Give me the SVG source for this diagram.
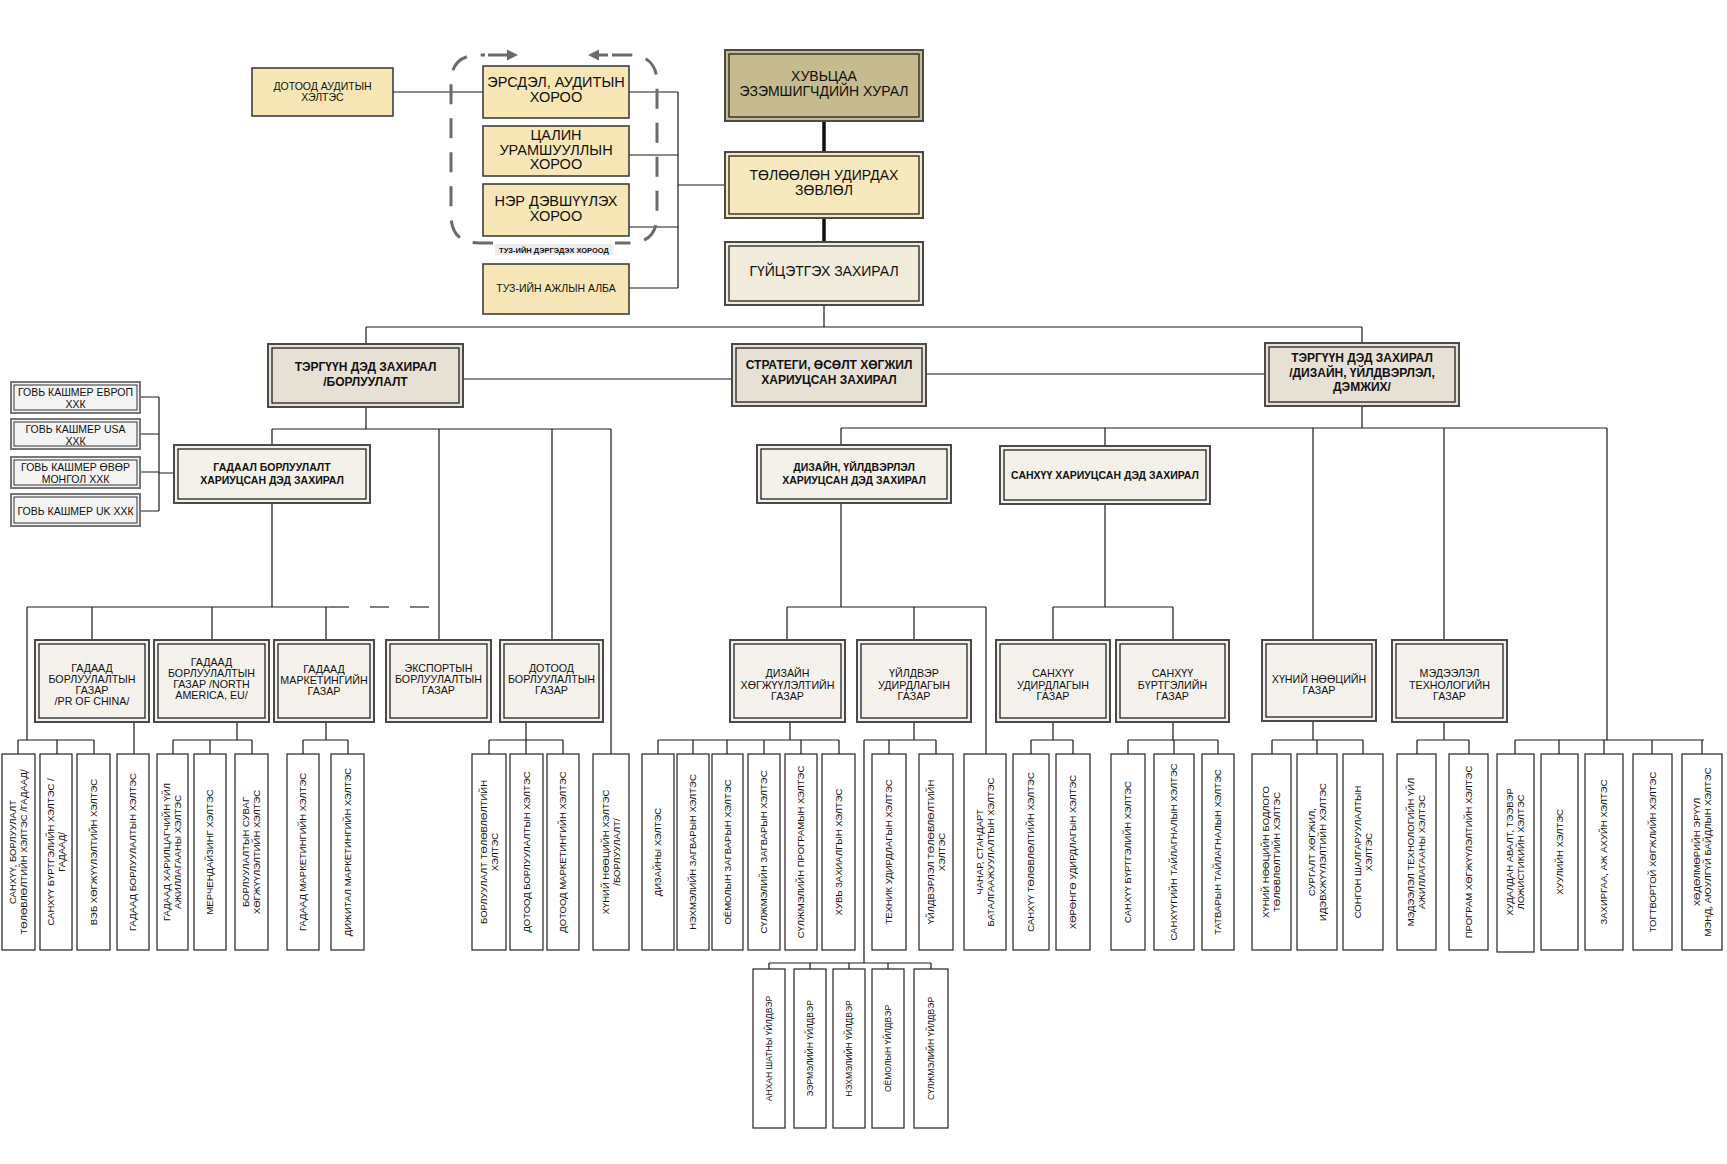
<svg xmlns="http://www.w3.org/2000/svg" width="1727" height="1164" viewBox="0 0 1727 1164">
<style>
.o{stroke:#4a4a4a;stroke-width:2}
.i{fill:none;stroke:#222;stroke-width:1.3}
.s1{fill:#c6ba8f}.s2{fill:#f6e9bd}.s3{fill:#f1ebdb}
.cm{fill:#f7e7b6;stroke:#333;stroke-width:1.5}
.l2{fill:#e6e0d5}.l3{fill:#f4f0ea}.gz{fill:#f5f2ed}
.sb{fill:#f4f4f4;stroke:#777;stroke-width:2}
.si{fill:none;stroke:#333;stroke-width:1}
.bx{fill:#fff;stroke:#222;stroke-width:1.2}
.t{font-family:"Liberation Sans",Arial,sans-serif;fill:#111;text-anchor:middle}
.f14{font-size:14px}.f13{font-size:14.5px}.f10{font-size:10.5px}.f11{font-size:10.7px}
.fb12{font-size:12px;font-weight:bold}.fb10{font-size:10.5px;font-weight:bold}
.fv{font-size:9.5px}.fp{font-size:8.5px}
.c{stroke:#1a1a1a;stroke-width:1.2;fill:none}
.ck{stroke:#111;stroke-width:3.5;fill:none}
.dash{fill:none;stroke:#6b6b6b;stroke-width:3;stroke-dasharray:20 14}
.dl{stroke:#555;stroke-width:1.5;stroke-dasharray:19 21;fill:none}
</style>
<rect width="1727" height="1164" fill="#fff"/>
<g id="connectors">
<path class="c" d="M393 92H483 M629 92H678 M629 155H678 M629 227H678 M629 288H678 M678 92V288 M678 185H725
M824 305V327 M366 327H1362 M366 327V344 M1362 327V343
M463 379H732 M926 374H1265
M366 407V429 M272 429H611 M272 429V445 M439 429V640 M552 429V640 M611 429V754
M1362 406V428 M841 428H1607 M841 428V445 M1105 428V446 M1313 428V640 M1444 428V640 M1607 428V740
M140 397H159 M140 434H159 M140 472H159 M140 511H159 M159 397V511 M159 473H174
M272 503V607 M27 607H330 M27 607V740 M92 607V640 M212 607V640 M326 607V640
M18 740H94 M18 740V754 M57 740V754 M94 740V754 M134 722V754 M237 722V740 M173 740H252 M173 740V754 M210 740V754 M252 740V754 M326 722V740 M303 740H348 M303 740V754 M348 740V754 M526 722V740 M489 740H563 M489 740V754 M526 740V754 M563 740V754
M841 503V607 M787 607H986 M787 607V640 M914 607V640 M986 607V754
M1105 504V607 M1053 607H1173 M1053 607V640 M1173 607V640
M790 722V740 M658 740H839 M658 740V754 M693 740V754 M727 740V754 M764 740V754 M801 740V754 M839 740V754
M914 722V740 M864 740H936 M889 740V754 M936 740V754 M864 740V963 M769 963H931 M769 963V969 M810 963V969 M849 963V969 M888 963V969 M931 963V969
M1053 722V740 M1031 740H1073 M1031 740V754 M1073 740V754
M1173 722V740 M1128 740H1218 M1128 740V754 M1174 740V754 M1218 740V754
M1313 721V740 M1272 740H1363 M1272 740V754 M1317 740V754 M1363 740V754
M1444 722V740 M1417 740H1469 M1417 740V754 M1469 740V754
M1515 740H1704 M1515 740V754 M1559 740V754 M1604 740V754 M1652 740V754 M1702 740V754"/>
<path class="ck" d="M824 121V152 M824 218V242"/>
<path class="dl" d="M330 607H431"/>
</g>
<g id="committee-frame">
<path class="dash" d="M612 55H629Q657 55 657 83V215Q657 243 629 243H615"/>
<path class="dash" d="M493 243H479Q451 243 451 215V83Q451 55 479 55H485"/>
<path d="M488 55H509" stroke="#6b6b6b" stroke-width="3"/>
<polygon points="507,49.5 518,55 507,60.5" fill="#6b6b6b"/>
<path d="M597 55H608" stroke="#6b6b6b" stroke-width="3"/>
<polygon points="599,49.5 588,55 599,60.5" fill="#6b6b6b"/>
<rect x="495" y="244" width="118" height="11" fill="#ececec"/>
<text class="t" x="554" y="252.5" style="font-size:7.5px;font-weight:bold">ТУЗ-ИЙН ДЭРГЭДЭХ ХОРООД</text>
</g>
<g id="shareholders"><rect class="o s1" x="725" y="50" width="198" height="71"/><rect class="i" x="729" y="54" width="190" height="63"/><text class="t f14" x="824" y="81">ХУВЬЦАА</text><text class="t f14" x="824" y="96">ЭЗЭМШИГЧДИЙН ХУРАЛ</text></g>
<g id="board"><rect class="o s2" x="725" y="152" width="198" height="66"/><rect class="i" x="729" y="156" width="190" height="58"/><text class="t f14" x="824" y="180">ТӨЛӨӨЛӨН УДИРДАХ</text><text class="t f14" x="824" y="195">ЗӨВЛӨЛ</text></g>
<g id="ceo"><rect class="o s3" x="725" y="242" width="198" height="63"/><rect class="i" x="729" y="246" width="190" height="55"/><text class="t f14" x="824" y="276">ГҮЙЦЭТГЭХ ЗАХИРАЛ</text></g>
<g id="internal-audit"><rect class="cm" x="252" y="68" width="141" height="48"/><text class="t f10" x="322.5" y="90">ДОТООД АУДИТЫН</text><text class="t f10" x="322.5" y="100.5">ХЭЛТЭС</text></g>
<g id="risk-committee"><rect class="cm" x="483" y="66" width="146" height="52"/><text class="t f13" x="556" y="87">ЭРСДЭЛ, АУДИТЫН</text><text class="t f13" x="556" y="101.5">ХОРОО</text></g>
<g id="salary-committee"><rect class="cm" x="483" y="126" width="146" height="50"/><text class="t f13" x="556" y="140">ЦАЛИН</text><text class="t f13" x="556" y="154.5">УРАМШУУЛЛЫН</text><text class="t f13" x="556" y="169">ХОРОО</text></g>
<g id="nomination-committee"><rect class="cm" x="483" y="184" width="146" height="52"/><text class="t f13" x="556" y="206">НЭР ДЭВШҮҮЛЭХ</text><text class="t f13" x="556" y="220.5">ХОРОО</text></g>
<g id="board-office"><rect class="cm" x="483" y="264" width="146" height="50"/><text class="t f10" x="556" y="292">ТУЗ-ИЙН АЖЛЫН АЛБА</text></g>
<g id="vp-sales"><rect class="o l2" x="268" y="344" width="195" height="63"/><rect class="i" x="272" y="348" width="187" height="55"/><text class="t fb12" x="365.5" y="371">ТЭРГҮҮН ДЭД ЗАХИРАЛ</text><text class="t fb12" x="365.5" y="386">/БОРЛУУЛАЛТ</text></g>
<g id="strategy"><rect class="o l2" x="732" y="344" width="194" height="62"/><rect class="i" x="736" y="348" width="186" height="54"/><text class="t fb12" x="829" y="369">СТРАТЕГИ, ӨСӨЛТ ХӨГЖИЛ</text><text class="t fb12" x="829" y="384">ХАРИУЦСАН ЗАХИРАЛ</text></g>
<g id="vp-design"><rect class="o l2" x="1265" y="343" width="194" height="63"/><rect class="i" x="1269" y="347" width="186" height="55"/><text class="t fb12" x="1362" y="362">ТЭРГҮҮН ДЭД ЗАХИРАЛ</text><text class="t fb12" x="1362" y="377">/ДИЗАЙН, ҮЙЛДВЭРЛЭЛ,</text><text class="t fb12" x="1362" y="391">ДЭМЖИХ/</text></g>
<g id="foreign-sales-dir"><rect class="o l3" x="174" y="445" width="196" height="58"/><rect class="i" x="178" y="449" width="188" height="50"/><text class="t fb10" x="272" y="471">ГАДААЛ БОРЛУУЛАЛТ</text><text class="t fb10" x="272" y="484">ХАРИУЦСАН ДЭД ЗАХИРАЛ</text></g>
<g id="design-prod-dir"><rect class="o l3" x="757" y="445" width="194" height="58"/><rect class="i" x="761" y="449" width="186" height="50"/><text class="t fb10" x="854" y="471">ДИЗАЙН, ҮЙЛДВЭРЛЭЛ</text><text class="t fb10" x="854" y="483.5">ХАРИУЦСАН ДЭД ЗАХИРАЛ</text></g>
<g id="finance-dir"><rect class="o l3" x="1000" y="446" width="210" height="58"/><rect class="i" x="1004" y="450" width="202" height="50"/><text class="t fb10" x="1105" y="479">САНХҮҮ ХАРИУЦСАН ДЭД ЗАХИРАЛ</text></g>
<g id="sub-europe"><rect class="sb" x="11" y="382" width="129" height="31"/><rect class="si" x="14" y="385" width="123" height="25"/><text class="t f10" x="75.5" y="396">ГОВЬ КАШМЕР ЕВРОП</text><text class="t f10" x="75.5" y="408">ХХК</text></g>
<g id="sub-usa"><rect class="sb" x="11" y="419" width="129" height="30"/><rect class="si" x="14" y="422" width="123" height="24"/><text class="t f10" x="75.5" y="433">ГОВЬ КАШМЕР USA</text><text class="t f10" x="75.5" y="445">ХХК</text></g>
<g id="sub-inner-mongolia"><rect class="sb" x="11" y="457" width="129" height="31"/><rect class="si" x="14" y="460" width="123" height="25"/><text class="t f10" x="75.5" y="471">ГОВЬ КАШМЕР ӨВӨР</text><text class="t f10" x="75.5" y="483">МОНГОЛ ХХК</text></g>
<g id="sub-uk"><rect class="sb" x="11" y="494" width="129" height="32"/><rect class="si" x="14" y="497" width="123" height="26"/><text class="t f10" x="75.5" y="515">ГОВЬ КАШМЕР UK ХХК</text></g>
<g id="dept-china"><rect class="o gz" x="35" y="640" width="114" height="82"/><rect class="i" x="39" y="644" width="106" height="74"/><text class="t f11" x="92" y="671.5">ГАДААД</text><text class="t f11" x="92" y="682.5">БОРЛУУЛАЛТЫН</text><text class="t f11" x="92" y="693.5">ГАЗАР</text><text class="t f11" x="92" y="704.5">/PR OF CHINA/</text></g>
<g id="dept-na-eu"><rect class="o gz" x="154" y="640" width="115" height="82"/><rect class="i" x="158" y="644" width="107" height="74"/><text class="t f11" x="211.5" y="666">ГАДААД</text><text class="t f11" x="211.5" y="677">БОРЛУУЛАЛТЫН</text><text class="t f11" x="211.5" y="688">ГАЗАР /NORTH</text><text class="t f11" x="211.5" y="699">AMERICA, EU/</text></g>
<g id="dept-foreign-marketing"><rect class="o gz" x="274" y="640" width="100" height="82"/><rect class="i" x="278" y="644" width="92" height="74"/><text class="t f11" x="324" y="673">ГАДААД</text><text class="t f11" x="324" y="684">МАРКЕТИНГИЙН</text><text class="t f11" x="324" y="695">ГАЗАР</text></g>
<g id="dept-export"><rect class="o gz" x="386" y="640" width="105" height="82"/><rect class="i" x="390" y="644" width="97" height="74"/><text class="t f11" x="438.5" y="672">ЭКСПОРТЫН</text><text class="t f11" x="438.5" y="683">БОРЛУУЛАЛТЫН</text><text class="t f11" x="438.5" y="694">ГАЗАР</text></g>
<g id="dept-domestic"><rect class="o gz" x="500" y="640" width="103" height="82"/><rect class="i" x="504" y="644" width="95" height="74"/><text class="t f11" x="551.5" y="672">ДОТООД</text><text class="t f11" x="551.5" y="683">БОРЛУУЛАЛТЫН</text><text class="t f11" x="551.5" y="694">ГАЗАР</text></g>
<g id="dept-design"><rect class="o gz" x="730" y="640" width="115" height="82"/><rect class="i" x="734" y="644" width="107" height="74"/><text class="t f11" x="787.5" y="677">ДИЗАЙН</text><text class="t f11" x="787.5" y="688.5">ХӨГЖҮҮЛЭЛТИЙН</text><text class="t f11" x="787.5" y="700">ГАЗАР</text></g>
<g id="dept-production"><rect class="o gz" x="857" y="640" width="114" height="82"/><rect class="i" x="861" y="644" width="106" height="74"/><text class="t f11" x="914" y="677">ҮЙЛДВЭР</text><text class="t f11" x="914" y="688.5">УДИРДЛАГЫН</text><text class="t f11" x="914" y="700">ГАЗАР</text></g>
<g id="dept-finance-mgmt"><rect class="o gz" x="996" y="640" width="114" height="82"/><rect class="i" x="1000" y="644" width="106" height="74"/><text class="t f11" x="1053" y="677">САНХҮҮ</text><text class="t f11" x="1053" y="688.5">УДИРДЛАГЫН</text><text class="t f11" x="1053" y="700">ГАЗАР</text></g>
<g id="dept-accounting"><rect class="o gz" x="1116" y="640" width="113" height="82"/><rect class="i" x="1120" y="644" width="105" height="74"/><text class="t f11" x="1172.5" y="677">САНХҮҮ</text><text class="t f11" x="1172.5" y="688.5">БҮРТГЭЛИЙН</text><text class="t f11" x="1172.5" y="700">ГАЗАР</text></g>
<g id="dept-hr"><rect class="o gz" x="1262" y="640" width="114" height="81"/><rect class="i" x="1266" y="644" width="106" height="73"/><text class="t f11" x="1319" y="683">ХҮНИЙ НӨӨЦИЙН</text><text class="t f11" x="1319" y="694">ГАЗАР</text></g>
<g id="dept-it"><rect class="o gz" x="1392" y="640" width="115" height="82"/><rect class="i" x="1396" y="644" width="107" height="74"/><text class="t f11" x="1449.5" y="677">МЭДЭЭЛЭЛ</text><text class="t f11" x="1449.5" y="688.5">ТЕХНОЛОГИЙН</text><text class="t f11" x="1449.5" y="700">ГАЗАР</text></g>
<g id="u01"><rect class="bx" x="2" y="754" width="33" height="196"/><text class="t fv" transform="translate(18.5,852) rotate(-90)"><tspan x="0" y="-2.2">САНХҮҮ, БОРЛУУЛАЛТ</tspan><tspan x="0" y="8.8">ТӨЛӨВЛӨЛТИЙН ХЭЛТЭС /ГАДААД/</tspan></text></g>
<g id="u02"><rect class="bx" x="40" y="754" width="32" height="196"/><text class="t fv" transform="translate(56,852) rotate(-90)"><tspan x="0" y="-2.2">САНХҮҮ БҮРТГЭЛИЙН ХЭЛТЭС /</tspan><tspan x="0" y="8.8">ГАДААД/</tspan></text></g>
<g id="u03"><rect class="bx" x="77" y="754" width="33" height="196"/><text class="t fv" transform="translate(93.5,852) rotate(-90)"><tspan x="0" y="3.3">ВЭБ ХӨГЖҮҮЛЭЛТИЙН ХЭЛТЭС</tspan></text></g>
<g id="u04"><rect class="bx" x="117" y="754" width="32" height="196"/><text class="t fv" transform="translate(133,852) rotate(-90)"><tspan x="0" y="3.3">ГАДААД БОРЛУУЛАЛТЫН ХЭЛТЭС</tspan></text></g>
<g id="u05"><rect class="bx" x="157" y="754" width="31" height="196"/><text class="t fv" transform="translate(172.5,852) rotate(-90)"><tspan x="0" y="-2.2">ГАДААД ХАРИЛЦАГЧИЙН ҮЙЛ</tspan><tspan x="0" y="8.8">АЖИЛЛАГААНЫ ХЭЛТЭС</tspan></text></g>
<g id="u06"><rect class="bx" x="194" y="754" width="32" height="196"/><text class="t fv" transform="translate(210,852) rotate(-90)"><tspan x="0" y="3.3">МЕРЧЕНДАЙЗИНГ ХЭЛТЭС</tspan></text></g>
<g id="u07"><rect class="bx" x="235" y="754" width="33" height="196"/><text class="t fv" transform="translate(251.5,852) rotate(-90)"><tspan x="0" y="-2.2">БОРЛУУЛАЛТЫН СУВАГ</tspan><tspan x="0" y="8.8">ХӨГЖҮҮЛЭЛТИЙН ХЭЛТЭС</tspan></text></g>
<g id="u08"><rect class="bx" x="287" y="754" width="32" height="196"/><text class="t fv" transform="translate(303,852) rotate(-90)"><tspan x="0" y="3.3">ГАДААД МАРКЕТИНГИЙН ХЭЛТЭС</tspan></text></g>
<g id="u09"><rect class="bx" x="331" y="754" width="33" height="196"/><text class="t fv" transform="translate(347.5,852) rotate(-90)"><tspan x="0" y="3.3">ДИЖИТАЛ МАРКЕТИНГИЙН ХЭЛТЭС</tspan></text></g>
<g id="u10"><rect class="bx" x="472" y="754" width="34" height="196"/><text class="t fv" transform="translate(489,852) rotate(-90)"><tspan x="0" y="-2.2">БОРЛУУЛАЛТ ТӨЛӨВЛӨЛТИЙН</tspan><tspan x="0" y="8.8">ХЭЛТЭС</tspan></text></g>
<g id="u11"><rect class="bx" x="510" y="754" width="33" height="196"/><text class="t fv" transform="translate(526.5,852) rotate(-90)"><tspan x="0" y="3.3">ДОТООД БОРЛУУЛАЛТЫН ХЭЛТЭС</tspan></text></g>
<g id="u12"><rect class="bx" x="547" y="754" width="32" height="196"/><text class="t fv" transform="translate(563,852) rotate(-90)"><tspan x="0" y="3.3">ДОТООД МАРКЕТИНГИЙН ХЭЛТЭС</tspan></text></g>
<g id="u13"><rect class="bx" x="593" y="754" width="36" height="196"/><text class="t fv" transform="translate(611,852) rotate(-90)"><tspan x="0" y="-2.2">ХҮНИЙ НӨӨЦИЙН ХЭЛТЭС</tspan><tspan x="0" y="8.8">/БОРЛУУЛАЛТ/</tspan></text></g>
<g id="d01"><rect class="bx" x="642" y="754" width="32" height="196"/><text class="t fv" transform="translate(658,852) rotate(-90)"><tspan x="0" y="3.3">ДИЗАЙНЫ ХЭЛТЭС</tspan></text></g>
<g id="d02"><rect class="bx" x="677" y="754" width="32" height="196"/><text class="t fv" transform="translate(693,852) rotate(-90)"><tspan x="0" y="3.3">НЭХМЭЛИЙН ЗАГВАРЫН ХЭЛТЭС</tspan></text></g>
<g id="d03"><rect class="bx" x="712" y="754" width="31" height="196"/><text class="t fv" transform="translate(727.5,852) rotate(-90)"><tspan x="0" y="3.3">ОЁМОЛЫН ЗАГВАРЫН ХЭЛТЭС</tspan></text></g>
<g id="d04"><rect class="bx" x="748" y="754" width="32" height="196"/><text class="t fv" transform="translate(764,852) rotate(-90)"><tspan x="0" y="3.3">СҮЛЖМЭЛИЙН ЗАГВАРЫН ХЭЛТЭС</tspan></text></g>
<g id="d05"><rect class="bx" x="785" y="754" width="32" height="196"/><text class="t fv" transform="translate(801,852) rotate(-90)"><tspan x="0" y="3.3">СҮЛЖМЭЛИЙН ПРОГРАМЫН ХЭЛТЭС</tspan></text></g>
<g id="d06"><rect class="bx" x="822" y="754" width="33" height="196"/><text class="t fv" transform="translate(838.5,852) rotate(-90)"><tspan x="0" y="3.3">ХУВЬ ЗАХИАЛГЫН ХЭЛТЭС</tspan></text></g>
<g id="d07"><rect class="bx" x="872" y="754" width="34" height="196"/><text class="t fv" transform="translate(889,852) rotate(-90)"><tspan x="0" y="3.3">ТЕХНИК УДИРДЛАГЫН ХЭЛТЭС</tspan></text></g>
<g id="d08"><rect class="bx" x="919" y="754" width="34" height="196"/><text class="t fv" transform="translate(936,852) rotate(-90)"><tspan x="0" y="-2.2">ҮЙЛДВЭРЛЭЛ ТӨЛӨВЛӨЛТИЙН</tspan><tspan x="0" y="8.8">ХЭЛТЭС</tspan></text></g>
<g id="d09"><rect class="bx" x="964" y="754" width="42" height="196"/><text class="t fv" transform="translate(985,852) rotate(-90)"><tspan x="0" y="-2.2">ЧАНАР, СТАНДАРТ</tspan><tspan x="0" y="8.8">БАТАЛГААЖУУЛАЛТЫН ХЭЛТЭС</tspan></text></g>
<g id="f01"><rect class="bx" x="1013" y="754" width="36" height="196"/><text class="t fv" transform="translate(1031,852) rotate(-90)"><tspan x="0" y="3.3">САНХҮҮ ТӨЛӨВЛӨЛТИЙН ХЭЛТЭС</tspan></text></g>
<g id="f02"><rect class="bx" x="1056" y="754" width="34" height="196"/><text class="t fv" transform="translate(1073,852) rotate(-90)"><tspan x="0" y="3.3">ХӨРӨНГӨ УДИРДЛАГЫН ХЭЛТЭС</tspan></text></g>
<g id="f03"><rect class="bx" x="1111" y="754" width="34" height="196"/><text class="t fv" transform="translate(1128,852) rotate(-90)"><tspan x="0" y="3.3">САНХҮҮ БҮРТГЭЛИЙН ХЭЛТЭС</tspan></text></g>
<g id="f04"><rect class="bx" x="1154" y="754" width="40" height="196"/><text class="t fv" transform="translate(1174,852) rotate(-90)"><tspan x="0" y="3.3">САНХҮҮГИЙН ТАЙЛАГНАЛЫН ХЭЛТЭС</tspan></text></g>
<g id="f05"><rect class="bx" x="1202" y="754" width="32" height="196"/><text class="t fv" transform="translate(1218,852) rotate(-90)"><tspan x="0" y="3.3">ТАТВАРЫН ТАЙЛАГНАЛЫН ХЭЛТЭС</tspan></text></g>
<g id="h01"><rect class="bx" x="1252" y="754" width="39" height="196"/><text class="t fv" transform="translate(1271.5,852) rotate(-90)"><tspan x="0" y="-2.2">ХҮНИЙ НӨӨЦИЙН БОДЛОГО</tspan><tspan x="0" y="8.8">ТӨЛӨВЛӨЛТИЙН ХЭЛТЭС</tspan></text></g>
<g id="h02"><rect class="bx" x="1297" y="754" width="40" height="196"/><text class="t fv" transform="translate(1317,852) rotate(-90)"><tspan x="0" y="-2.2">СУРГАЛТ ХӨГЖИЛ,</tspan><tspan x="0" y="8.8">ИДЭВХЖҮҮЛЭЛТИЙН ХЭЛТЭС</tspan></text></g>
<g id="h03"><rect class="bx" x="1343" y="754" width="40" height="196"/><text class="t fv" transform="translate(1363,852) rotate(-90)"><tspan x="0" y="-2.2">СОНГОН ШАЛГАРУУЛАЛТЫН</tspan><tspan x="0" y="8.8">ХЭЛТЭС</tspan></text></g>
<g id="i01"><rect class="bx" x="1397" y="754" width="39" height="196"/><text class="t fv" transform="translate(1416.5,852) rotate(-90)"><tspan x="0" y="-2.2">МЭДЭЭЛЭЛ ТЕХНОЛОГИЙН ҮЙЛ</tspan><tspan x="0" y="8.8">АЖИЛЛАГААНЫ ХЭЛТЭС</tspan></text></g>
<g id="i02"><rect class="bx" x="1449" y="754" width="39" height="196"/><text class="t fv" transform="translate(1468.5,852) rotate(-90)"><tspan x="0" y="3.3">ПРОГРАМ ХӨГЖҮҮЛЭЛТИЙН ХЭЛТЭС</tspan></text></g>
<g id="s01"><rect class="bx" x="1497" y="754" width="37" height="198"/><text class="t fv" transform="translate(1515.5,852) rotate(-90)"><tspan x="0" y="-2.2">ХУДАЛДАН АВАЛТ, ТЭЭВЭР</tspan><tspan x="0" y="8.8">ЛОЖИСТИКИЙН ХЭЛТЭС</tspan></text></g>
<g id="s02"><rect class="bx" x="1541" y="754" width="37" height="196"/><text class="t fv" transform="translate(1559.5,852) rotate(-90)"><tspan x="0" y="3.3">ХУУЛИЙН ХЭЛТЭС</tspan></text></g>
<g id="s03"><rect class="bx" x="1585" y="754" width="38" height="196"/><text class="t fv" transform="translate(1604,852) rotate(-90)"><tspan x="0" y="3.3">ЗАХИРГАА, АЖ АХУЙН ХЭЛТЭС</tspan></text></g>
<g id="s04"><rect class="bx" x="1633" y="754" width="39" height="196"/><text class="t fv" transform="translate(1652.5,852) rotate(-90)"><tspan x="0" y="3.3">ТОГТВОРТОЙ ХӨГЖЛИЙН ХЭЛТЭС</tspan></text></g>
<g id="s05"><rect class="bx" x="1682" y="754" width="40" height="196"/><text class="t fv" transform="translate(1702,852) rotate(-90)"><tspan x="0" y="-2.2">ХӨДӨЛМӨРИЙН ЭРҮҮЛ</tspan><tspan x="0" y="8.8">МЭНД, АЮУЛГҮЙ БАЙДЛЫН ХЭЛТЭС</tspan></text></g>
<g id="p01"><rect class="bx" x="753" y="969" width="32" height="159"/><text class="t fp" transform="translate(769,1048.5) rotate(-90)"><tspan x="0" y="3">АНХАН ШАТНЫ ҮЙЛДВЭР</tspan></text></g>
<g id="p02"><rect class="bx" x="794" y="969" width="32" height="159"/><text class="t fp" transform="translate(810,1048.5) rotate(-90)"><tspan x="0" y="3">ЭЭРМЭЛИЙН ҮЙЛДВЭР</tspan></text></g>
<g id="p03"><rect class="bx" x="833" y="969" width="32" height="159"/><text class="t fp" transform="translate(849,1048.5) rotate(-90)"><tspan x="0" y="3">НЭХМЭЛИЙН ҮЙЛДВЭР</tspan></text></g>
<g id="p04"><rect class="bx" x="872" y="969" width="32" height="159"/><text class="t fp" transform="translate(888,1048.5) rotate(-90)"><tspan x="0" y="3">ОЁМОЛЫН ҮЙЛДВЭР</tspan></text></g>
<g id="p05"><rect class="bx" x="914" y="969" width="34" height="159"/><text class="t fp" transform="translate(931,1048.5) rotate(-90)"><tspan x="0" y="3">СҮЛЖМЭЛИЙН ҮЙЛДВЭР</tspan></text></g>
</svg>
